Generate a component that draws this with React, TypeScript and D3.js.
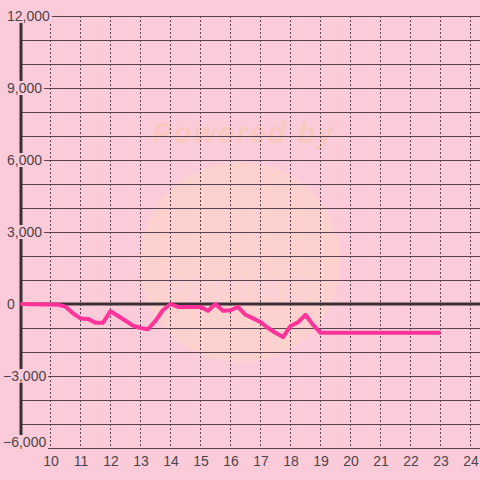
import React from "react";
import * as d3 from "d3";

const hours = [9, 10.25, 10.5, 10.75, 11, 11.25, 11.5, 11.75, 12, 12.25, 12.5, 12.75, 13, 13.25, 13.5, 13.75, 14, 14.25, 14.5, 14.75, 15, 15.25, 15.5, 15.75, 16, 16.25, 16.5, 16.75, 17, 17.25, 17.5, 17.75, 18, 18.25, 18.5, 18.75, 19, 20, 21, 22, 23];
const values = [0, -30, -110, -390, -600, -620, -780, -780, -300, -500, -700, -900, -1000, -1050, -700, -250, 0, -120, -120, -120, -120, -280, 0, -280, -260, -120, -450, -600, -750, -1000, -1200, -1380, -920, -760, -450, -870, -1200, -1200, -1200, -1200, -1200];
const xTicks = [10, 11, 12, 13, 14, 15, 16, 17, 18, 19, 20, 21, 22, 23, 24];
const yTicks = [-6000, -3000, 0, 3000, 6000, 9000, 12000];
const yGrid = d3.range(-6000, 12001, 1000);

const W = 480, H = 480;
const BG = "#fccbda";
const GRID = "#5a4350";
const TEXT = "#4e4449";

export default function App() {
  const x = d3.scaleLinear().domain([9, 24]).range([20, 470]);
  const y = d3.scaleLinear().domain([-6000, 12000]).range([448, 16]);
  const data = hours.map((h, i) => [h, values[i]] as [number, number]);
  const line = d3.line<[number, number]>().x(d => x(d[0]) + 0.5).y(d => y(d[1]));
  const fmt = d3.format(",");
  const charW = (s: string) => {
    let w = 0;
    for (const c of s) w += c === "," ? 3.9 : c === "-" ? 4.7 : 7.8;
    return w;
  };
  return (
    <div style={{ position: "absolute", left: 0, top: 0 }}>
      <svg width={W} height={H} style={{ display: "block" }}>
        <rect x={0} y={0} width={W} height={H} fill={BG} />
        {/* watermark */}
        <circle cx={240} cy={262} r={100} fill="#fdd3c9" opacity={0.75} />
        <text x={244} y={143} textAnchor="middle" fontFamily="Liberation Sans, Arial, sans-serif" fontWeight="bold" fontStyle="italic" fontSize={29} letterSpacing={2} fill="#f9c8bf">Powered by</text>
        <rect x={226} y={208} width={30} height={48} fill="none" stroke="#fbd0dc" strokeWidth={1.5} />
        <text x={240} y={302} textAnchor="middle" fontFamily="DejaVu Sans, sans-serif" fontSize={34} fill="none" stroke="#fbd0dc" strokeWidth={1.2} letterSpacing={4}>PAPIMO</text>
        {/* vertical dashed grid */}
        {xTicks.map(t => (
          <line key={"v" + t} x1={Math.round(x(t)) + 0.5} x2={Math.round(x(t)) + 0.5} y1={16} y2={448} stroke={GRID} strokeWidth={1} strokeDasharray="2,2" />
        ))}
        {/* horizontal grid */}
        {yGrid.map(t => (
          <line key={"h" + t} x1={21} x2={W} y1={Math.round(y(t)) + 0.5} y2={Math.round(y(t)) + 0.5} stroke={GRID} strokeWidth={1} />
        ))}
        {/* left axis */}
        <line x1={21} x2={21} y1={16} y2={448} stroke="#3a3035" strokeWidth={3} />
        {/* zero line */}
        <line x1={21} x2={W} y1={y(0)} y2={y(0)} stroke="#3a3035" strokeWidth={3} />
        {/* y labels */}
        {yTicks.map(t => {
          const s = fmt(t);
          const w = charW(s);
          const x0 = t < 0 ? 3 : 7;
          const cy = Math.min(y(t), 442);
          return (
            <g key={"yl" + t}>
              <rect x={x0 - 2} y={cy - 7} width={w + 4} height={14} fill={BG} />
              <text x={x0} y={cy} dy="0.35em" fontFamily="Liberation Sans, Arial, sans-serif" fontSize={14} fill={TEXT}>{s}</text>
            </g>
          );
        })}
        {/* x labels */}
        {xTicks.map(t => (
          <text key={"xl" + t} x={x(t) + 1} y={461} dy="0.35em" textAnchor="middle" fontFamily="Liberation Sans, Arial, sans-serif" fontSize={14} fill={TEXT}>{t}</text>
        ))}
        {/* series */}
        <path d={line(data) || ""} fill="none" stroke="#ff3399" strokeWidth={4} strokeLinejoin="round" />
      </svg>
    </div>
  );
}
